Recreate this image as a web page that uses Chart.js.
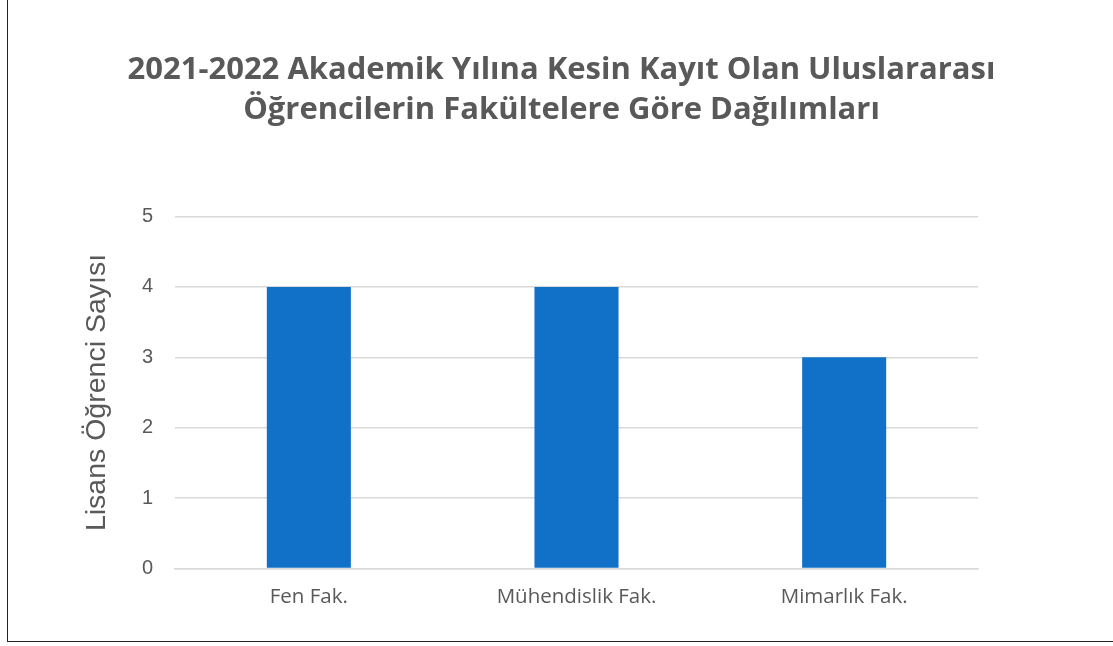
<!DOCTYPE html>
<html>
<head>
<meta charset="utf-8">
<script src="https://cdn.jsdelivr.net/npm/chart.js@4"></script>
<style>
  html, body { margin: 0; padding: 0; background: #fff; }
  #kutu { position: absolute; left: 7px; top: -2px; width: 1110px; height: 643px; border-left: 1.5px solid #222; border-bottom: 1.5px solid #222; }
  #alan { position: absolute; left: 0; top: 0; width: 1113px; height: 646px; }
</style>
</head>
<body>
<div id="kutu"></div>
<div id="alan"><canvas id="myChart" width="1113" height="646"></canvas></div>
<script>
const fakulteler = ["Fen Fak.", "Mühendislik Fak.", "Mimarlık Fak."]
const ogrenciSayisi = [4, 4, 3]
const yEtiketleri = ["0", "1", "2", "3", "4", "5"]
const baslik = ["2021-2022 Akademik Yılına Kesin Kayıt Olan Uluslararası", "Öğrencilerin Fakültelere Göre Dağılımları"]

var ctx = document.getElementById("myChart").getContext("2d");

const data = {
    labels: fakulteler,
    datasets: [{
        label: "Lisans Öğrenci Sayısı",
        data: ogrenciSayisi,
        backgroundColor: '#1170C8',
        categoryPercentage: 1,
        barPercentage: 0.314
    }]
};

const config = {
    type: 'bar',
    data: data,
    options: {
        responsive: false,
        animation: false,
        layout: {
            padding: {left: 10, right: 0, top: 50, bottom: 29}
        },
        plugins: {
            legend: {display: false},
            tooltip: {enabled: false},
            title: {
                display: true,
                text: baslik,
                color: '#595959',
                font: {family: 'Open Sans', size: 31, weight: 'bold', lineHeight: 1.3},
                padding: {top: 0, bottom: 86}
            }
        },
        scales: {
            x: {
                grid: {display: false},
                border: {display: true, color: '#d9d9d9', width: 1.5},
                ticks: {color: '#595959', font: {family: 'Open Sans', size: 20.5}, padding: 8}
            },
            y: {
                min: 0,
                max: 5,
                afterFit: function(axis){ axis.width = 165 },
                ticks: {
                    stepSize: 1,
                    color: '#595959',
                    font: {family: 'Liberation Sans', size: 20},
                    padding: 22,
                    callback: function(value){ return yEtiketleri[value] }
                },
                grid: {color: '#d9d9d9', lineWidth: 1.5, drawTicks: false},
                border: {display: false},
                title: {
                    display: true,
                    text: "Lisans Öğrenci Sayısı",
                    color: '#595959',
                    font: {family: 'Liberation Sans', size: 28.5},
                    padding: {top: 70, bottom: 0}
                }
            },
            bos: {
                position: 'right',
                display: true,
                afterFit: function(axis){ axis.width = 135 },
                ticks: {display: false},
                grid: {display: false},
                border: {display: false}
            }
        }
    }
};

var myChart = new Chart(ctx, config)
</script>
</body>
</html>
